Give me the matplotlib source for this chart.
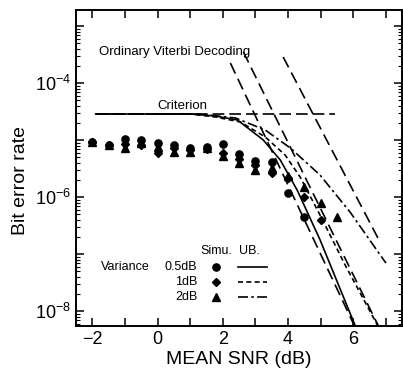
import numpy as np
import matplotlib
matplotlib.use("Agg")
import matplotlib.pyplot as plt
from matplotlib.ticker import LogLocator, NullFormatter, FixedLocator

plt.rcParams['font.family'] = ['Liberation Sans', 'DejaVu Sans']
plt.rcParams['mathtext.fontset'] = 'custom'
plt.rcParams['mathtext.rm'] = 'Liberation Sans'

# simulation points (mean SNR in dB, log10 of BER)
snr_sim = [-2, -1.5, -1, -0.5, 0, 0.5, 1, 1.5, 2, 2.5, 3, 3.5, 4, 4.5]
circ_log = [-5.03, -5.09, -4.99, -5.00, -5.05, -5.09, -5.14, -5.12, -5.07, -5.25, -5.37, -5.39, -5.93, -6.35]
snr_dia = [-2, -1.5, -1, -0.5, 0, 0.5, 1, 1.5, 2, 2.5, 3, 3.5, 4, 4.5, 5]
dia_log = [-5.03, -5.09, -5.07, -5.09, -5.22, -5.14, -5.18, -5.15, -5.23, -5.34, -5.44, -5.58, -5.67, -6.00, -6.40]
snr_tri = [-2, -1.5, -1, -0.5, 0, 0.5, 1, 1.5, 2, 2.5, 3, 3.5, 4, 4.5, 5, 5.5]
tri_log = [-5.03, -5.09, -5.14, -5.05, -5.13, -5.21, -5.21, -5.14, -5.28, -5.41, -5.53, -5.49, -5.63, -5.82, -6.10, -6.35]

# upper bounds
ub05_x = [-1.9, 1.01, 1.77, 2.45, 3.24, 3.76, 4.28, 4.98, 6.21]
ub05_y = [-4.544, -4.544, -4.579, -4.649, -5.0, -5.35, -5.88, -6.75, -8.47]
ub1_x = [-1.9, 1.01, 1.77, 2.54, 3.30, 3.91, 4.37, 4.98, 5.75, 6.95]
ub1_y = [-4.544, -4.544, -4.596, -4.684, -4.947, -5.263, -5.649, -6.316, -7.193, -8.47]
ub2_x = [-1.9, 1.31, 2.39, 3.30, 4.07, 4.98, 5.90, 7.00]
ub2_y = [-4.544, -4.544, -4.614, -4.825, -5.140, -5.614, -6.263, -7.158]

# ordinary viterbi decoding
vit1_x = [2.23, 6.21]
vit1_y = [-3.649, -8.47]
vit2_x = [2.63, 6.95]
vit2_y = [-3.456, -8.47]
vit3_x = [3.85, 6.82]
vit3_y = [-3.544, -6.789]

crit_x = [-1.9, 5.45]
crit_y = [-4.544, -4.544]

fig = plt.figure(figsize=(4.03, 3.72), dpi=100)
ax = fig.add_axes([0.189, 0.124, 0.809, 0.849])

lw = 1.2
ax.plot(crit_x, 10 ** np.array(crit_y), color='black', lw=lw, dashes=(7, 3))
for vx, vy in [(vit1_x, vit1_y), (vit2_x, vit2_y), (vit3_x, vit3_y)]:
    ax.plot(vx, 10 ** np.array(vy), color='black', lw=lw, dashes=(7, 3.5))
ax.plot(ub05_x, 10 ** np.array(ub05_y), color='black', lw=lw)
ax.plot(ub1_x, 10 ** np.array(ub1_y), color='black', lw=lw, dashes=(3, 2))
ax.plot(ub2_x, 10 ** np.array(ub2_y), color='black', lw=lw, dashes=(6, 2, 1.5, 2))

ax.plot(snr_tri, 10 ** np.array(tri_log), '^', color='black', ms=5.2, ls='none')
ax.plot(snr_dia, 10 ** np.array(dia_log), 'D', color='black', ms=4.3, ls='none')
ax.plot(snr_sim, 10 ** np.array(circ_log), 'o', color='black', ms=5.2, ls='none')

ax.set_yscale('log')
ax.set_xlim(-2.5, 7.5)
ax.set_ylim(10 ** -8.26, 10 ** -2.72)

ax.set_xticks([-2, 0, 2, 4, 6])
ax.set_xticklabels(['\u22122', '0', '2', '4', '6'])
ax.xaxis.set_minor_locator(FixedLocator([-1, 1, 3, 5, 7]))
ax.yaxis.set_major_locator(FixedLocator([1e-8, 1e-7, 1e-6, 1e-5, 1e-4, 1e-3]))
ax.set_yticklabels(['$10^{-8}$', '', '$10^{-6}$', '', '$10^{-4}$', ''])
ax.yaxis.set_minor_locator(LogLocator(base=10, subs=np.arange(2, 10), numticks=20))
ax.yaxis.set_minor_formatter(NullFormatter())

ax.tick_params(which='both', direction='in', top=True, right=True, labelsize=13)
ax.tick_params(which='major', length=6, width=1.1)
ax.tick_params(which='minor', length=3, width=0.8)
ax.tick_params(axis='x', which='minor', length=6, width=1.1)
for s in ax.spines.values():
    s.set_linewidth(1.4)

ax.set_xlabel('MEAN SNR (dB)', fontsize=14, labelpad=2)
ax.set_ylabel('Bit error rate', fontsize=14)
ax.yaxis.set_label_coords(-0.145, 0.46)

ax.text(-1.8, 10 ** -3.456, 'Ordinary Viterbi Decoding', fontsize=9.5, va='center', ha='left')
ax.text(0.76, 10 ** -4.40, 'Criterion', fontsize=9.5, va='center', ha='center')

# legend drawn by hand
ax.text(1.31, 10 ** -6.95, 'Simu.', fontsize=9, va='center', ha='left')
ax.text(2.48, 10 ** -6.95, 'UB.', fontsize=9, va='center', ha='left')
ax.text(-1.74, 10 ** -7.23, 'Variance', fontsize=9, va='center', ha='left')
leg_lab = ['0.5dB', '1dB', '2dB']
leg_y = [-7.23, -7.49, -7.75]
leg_mk = [('o', 5.2), ('D', 4.3), ('^', 5.2)]
leg_ls = [dict(), dict(dashes=(3, 2)), dict(dashes=(6, 2, 1.5, 2))]
for lab, ly, (mk, ms), ls in zip(leg_lab, leg_y, leg_mk, leg_ls):
    ax.text(1.22, 10 ** ly, lab, fontsize=9, va='center', ha='right')
    ax.plot([1.80], [10 ** ly], mk, color='black', ms=ms)
    ax.plot([2.45, 3.36], [10 ** ly, 10 ** ly], color='black', lw=lw, **ls)

fig.savefig('out.png', dpi=100)
